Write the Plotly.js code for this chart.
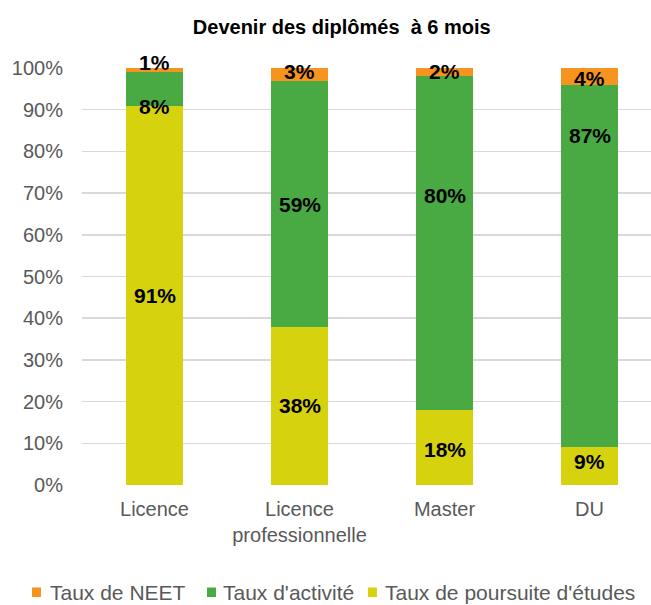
<!DOCTYPE html>
<html>
<head>
<meta charset="utf-8">
<script src="https://cdn.plot.ly/plotly-3.0.1.min.js"></script>
<style>html,body{margin:0;padding:0;background:#fff;}#chart{width:651px;height:605px;}</style>
</head>
<body>
<div id="chart"></div>
<script>
const categories = ["Licence", "Licence<br>professionnelle", "Master", "DU"];
const poursuite = [91, 38, 18, 9];
const activite = [8, 59, 80, 87];
const neet = [1, 3, 2, 4];
const seriesNames = ["Taux de poursuite d'études", "Taux d'activité", "Taux de NEET"];
const yTicks = [0, 10, 20, 30, 40, 50, 60, 70, 80, 90, 100];

// styling (not data): colours, manual label offsets in pixels (as in the original chart), legend item positions
const seriesColors = ["#D6D20E", "#49AA44", "#F7931F"];
const labelShift = [
  [0, 0, -2, 5],
  [-18, -1, 48, 131],
  [8, 3, 1, -2]
];
const legendOrder = [2, 1, 0];
const legendSquareX = [-0.0879, 0.2197, 0.5026];
const legendTextX = [-0.0598, 0.2443, 0.5290];
const legendY = -0.2566;
const legendSq = [-0.2686, -0.2458];

const FONT = "Liberation Sans, Arial, sans-serif";
const series = [poursuite, activite, neet];
const traces = series.map((vals, i) => ({
  type: "bar",
  x: categories,
  y: vals,
  name: seriesNames[i],
  marker: {color: seriesColors[i], line: {width: 0}},
  width: 0.393,
  hoverinfo: "skip",
  showlegend: false
}));

const annotations = [];
const base = categories.map(() => 0);
series.forEach((vals, i) => {
  vals.forEach((v, j) => {
    annotations.push({
      x: categories[j], y: base[j] + v / 2, xref: "x", yref: "y",
      text: "<b>" + v + "%</b>", showarrow: false,
      yanchor: "middle", xanchor: "center", yshift: labelShift[i][j],
      font: {family: FONT, size: 21, color: "#000000"}
    });
    base[j] += v;
  });
});

const shapes = [];
legendOrder.forEach((s, k) => {
  shapes.push({
    type: "rect", xref: "paper", yref: "paper",
    x0: legendSquareX[k], x1: legendSquareX[k] + 0.0158,
    y0: legendSq[0], y1: legendSq[1],
    fillcolor: seriesColors[s], line: {width: 0}
  });
  annotations.push({
    x: legendTextX[k], y: legendY, xref: "paper", yref: "paper",
    text: seriesNames[s], showarrow: false,
    xanchor: "left", yanchor: "middle",
    font: {family: FONT, size: 21, color: "#595959"}
  });
});

const layout = {
  width: 651, height: 605,
  margin: {l: 82, r: 0, t: 68, b: 120},
  paper_bgcolor: "#ffffff", plot_bgcolor: "#ffffff",
  barmode: "stack",
  annotations: annotations,
  shapes: shapes,
  showlegend: false,
  title: {
    text: "<b>Devenir des diplômés\u00a0 à 6 mois</b>",
    font: {family: FONT, size: 20, color: "#000000"},
    x: 0.525, xanchor: "center", xref: "container",
    y: 0.955, yanchor: "middle", yref: "container"
  },
  xaxis: {
    range: [-0.5, 3.424],
    showgrid: false, zeroline: false, showline: false,
    ticks: "", ticklabelstandoff: 10,
    tickfont: {family: FONT, size: 20, color: "#595959"}
  },
  yaxis: {
    range: [0, 100],
    tickvals: yTicks,
    ticktext: yTicks.map(v => v + "%"),
    showgrid: true, gridcolor: "#D9D9D9", gridwidth: 1.5,
    zeroline: false, showline: false,
    ticks: "", ticklabelstandoff: 18,
    tickfont: {family: FONT, size: 20, color: "#595959"}
  }
};

Plotly.newPlot("chart", traces, layout, {displayModeBar: false, staticPlot: true});
</script>
</body>
</html>
